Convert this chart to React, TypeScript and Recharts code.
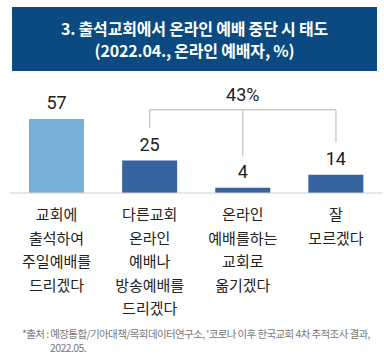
import React from 'react'
import { BarChart, Bar, XAxis, YAxis, Cell, LabelList, ReferenceLine } from 'recharts'

const categories = [
  '교회에\n출석하여\n주일예배를\n드리겠다',
  '다른교회\n온라인\n예배나\n방송예배를\n드리겠다',
  '온라인\n예배를하는\n교회로\n옮기겠다',
  '잘\n모르겠다'
]
const values = [57, 25, 4, 14]
const barColors = ['#76b0d7', '#3763a1', '#3763a1', '#3763a1']

// bracket over the last three bars (sum of 25 + 4 + 14)
const bracketLabel = '43%'
const bracketTop = 64
const bracketEnds = [50, 28.5, 39]
const bracketFrom = 1

const titleLines = ['3. 출석교회에서 온라인 예배 중단 시 태도', '(2022.04., 온라인 예배자, %)']
const sourceLines = ["*출처 : 예장통합/기아대책/목회데이터연구소, '코로나 이후 한국교회 4차 추적조사 결과,", '2022.05.']

const data = categories.map((name, i) => ({ name, value: values[i] }))

const KR = '"Noto Sans CJK KR", "Noto Sans", sans-serif'

function CategoryTick(props: any) {
  const { x, y, payload } = props
  const lines = String(payload.value).split('\n')
  return (
    <text x={x} y={y + 27} textAnchor="middle" fontSize={15} fill="#222" fontFamily={KR}>
      {lines.map((l, i) => (
        <tspan key={i} x={x} dy={i === 0 ? 0 : 23.5}>
          {l}
        </tspan>
      ))}
    </text>
  )
}

export default function App() {
  return (
    <div style={{ position: 'absolute', left: 0, top: 0, width: 384, height: 363, background: '#fff', fontFamily: KR }}>
      <div
        style={{
          position: 'absolute',
          left: 12,
          top: 7,
          width: 365,
          height: 64,
          background: '#0b4a80',
          color: '#fff',
          display: 'flex',
          flexDirection: 'column',
          justifyContent: 'center',
          alignItems: 'center',
          fontWeight: 700,
          fontSize: 16,
          lineHeight: '22px',
          letterSpacing: -0.2
        }}
      >
        {titleLines.map((t) => (
          <div key={t}>{t}</div>
        ))}
      </div>

      <div style={{ position: 'absolute', left: 0, top: 0 }}>
        <BarChart width={384} height={363} data={data} margin={{ top: 89, right: 1.5, left: 10, bottom: 60 }}>
          <XAxis
            dataKey="name"
            interval={0}
            height={110}
            tickSize={0}
            tickMargin={0}
            tickLine={false}
            axisLine={{ stroke: '#cfcfcf', strokeWidth: 1 }}
            tick={<CategoryTick />}
          />
          <YAxis hide domain={[0, 80]} />
          <Bar dataKey="value" barSize={55} isAnimationActive={false}>
            {data.map((d, i) => (
              <Cell key={d.name} fill={barColors[i]} />
            ))}
            <LabelList dataKey="value" position="top" offset={10} fontSize={18} fill="#222" fontFamily="Roboto, sans-serif" />
          </Bar>
          <ReferenceLine
            segment={[
              { x: categories[bracketFrom], y: bracketTop },
              { x: categories[categories.length - 1], y: bracketTop }
            ]}
            stroke="#b5b5b5"
            strokeWidth={1}
            label={{ value: bracketLabel, position: 'top', offset: 9, fontSize: 18, fill: '#222', fontFamily: 'Roboto, sans-serif' }}
          />
          {bracketEnds.map((end, i) => (
            <ReferenceLine
              key={i}
              segment={[
                { x: categories[bracketFrom + i], y: bracketTop },
                { x: categories[bracketFrom + i], y: end }
              ]}
              stroke="#b5b5b5"
              strokeWidth={1}
            />
          ))}
        </BarChart>
      </div>

      <div
        style={{
          position: 'absolute',
          left: 22,
          top: 327,
          width: 360,
          fontSize: 10.5,
          lineHeight: '14px',
          letterSpacing: -0.6,
          color: '#777',
          whiteSpace: 'nowrap'
        }}
      >
        <div>{sourceLines[0]}</div>
        <div style={{ paddingLeft: 28 }}>{sourceLines[1]}</div>
      </div>
    </div>
  )
}
